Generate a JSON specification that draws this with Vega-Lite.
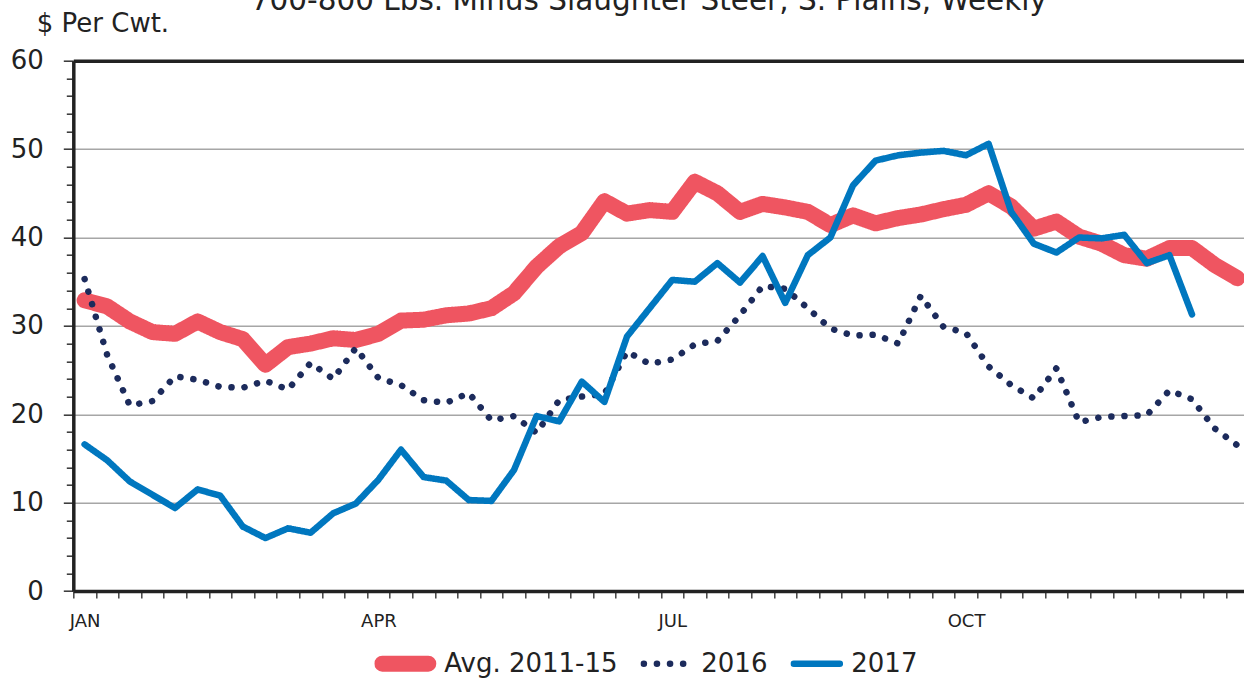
{
  "$schema": "https://vega.github.io/schema/vega-lite/v6.json",
  "width": 1170.7,
  "height": 530.4,
  "autosize": {"type": "none"},
  "padding": {"left": 73.3, "top": 60.7, "right": 0, "bottom": 89.5},
  "config": {"font": "DejaVu Sans", "view": {"stroke": null}},
  "data": {"values": [
    {"week":1,"series":"Avg. 2011-15","value":32.9},{"week":2,"series":"Avg. 2011-15","value":32.2},{"week":3,"series":"Avg. 2011-15","value":30.5},{"week":4,"series":"Avg. 2011-15","value":29.3},{"week":5,"series":"Avg. 2011-15","value":29.1},{"week":6,"series":"Avg. 2011-15","value":30.5},{"week":7,"series":"Avg. 2011-15","value":29.3},{"week":8,"series":"Avg. 2011-15","value":28.5},{"week":9,"series":"Avg. 2011-15","value":25.6},{"week":10,"series":"Avg. 2011-15","value":27.6},{"week":11,"series":"Avg. 2011-15","value":28.0},{"week":12,"series":"Avg. 2011-15","value":28.6},{"week":13,"series":"Avg. 2011-15","value":28.4},{"week":14,"series":"Avg. 2011-15","value":29.1},{"week":15,"series":"Avg. 2011-15","value":30.6},{"week":16,"series":"Avg. 2011-15","value":30.7},{"week":17,"series":"Avg. 2011-15","value":31.2},{"week":18,"series":"Avg. 2011-15","value":31.4},{"week":19,"series":"Avg. 2011-15","value":32.0},{"week":20,"series":"Avg. 2011-15","value":33.7},{"week":21,"series":"Avg. 2011-15","value":36.7},{"week":22,"series":"Avg. 2011-15","value":39.0},{"week":23,"series":"Avg. 2011-15","value":40.5},{"week":24,"series":"Avg. 2011-15","value":44.1},{"week":25,"series":"Avg. 2011-15","value":42.7},{"week":26,"series":"Avg. 2011-15","value":43.1},{"week":27,"series":"Avg. 2011-15","value":42.9},{"week":28,"series":"Avg. 2011-15","value":46.3},{"week":29,"series":"Avg. 2011-15","value":45.0},{"week":30,"series":"Avg. 2011-15","value":42.9},{"week":31,"series":"Avg. 2011-15","value":43.8},{"week":32,"series":"Avg. 2011-15","value":43.4},{"week":33,"series":"Avg. 2011-15","value":42.9},{"week":34,"series":"Avg. 2011-15","value":41.4},{"week":35,"series":"Avg. 2011-15","value":42.5},{"week":36,"series":"Avg. 2011-15","value":41.6},{"week":37,"series":"Avg. 2011-15","value":42.2},{"week":38,"series":"Avg. 2011-15","value":42.6},{"week":39,"series":"Avg. 2011-15","value":43.2},{"week":40,"series":"Avg. 2011-15","value":43.7},{"week":41,"series":"Avg. 2011-15","value":45.0},{"week":42,"series":"Avg. 2011-15","value":43.5},{"week":43,"series":"Avg. 2011-15","value":41.0},{"week":44,"series":"Avg. 2011-15","value":41.8},{"week":45,"series":"Avg. 2011-15","value":40.1},{"week":46,"series":"Avg. 2011-15","value":39.3},{"week":47,"series":"Avg. 2011-15","value":38.0},{"week":48,"series":"Avg. 2011-15","value":37.6},{"week":49,"series":"Avg. 2011-15","value":38.8},{"week":50,"series":"Avg. 2011-15","value":38.8},{"week":51,"series":"Avg. 2011-15","value":36.9},{"week":52,"series":"Avg. 2011-15","value":35.4},
    {"week":1,"series":"2016","value":35.3},{"week":2,"series":"2016","value":26.7},{"week":3,"series":"2016","value":21.0},{"week":4,"series":"2016","value":21.5},{"week":5,"series":"2016","value":24.3},{"week":6,"series":"2016","value":23.9},{"week":7,"series":"2016","value":23.1},{"week":8,"series":"2016","value":23.0},{"week":9,"series":"2016","value":23.8},{"week":10,"series":"2016","value":22.8},{"week":11,"series":"2016","value":25.8},{"week":12,"series":"2016","value":24.0},{"week":13,"series":"2016","value":27.5},{"week":14,"series":"2016","value":24.1},{"week":15,"series":"2016","value":23.3},{"week":16,"series":"2016","value":21.6},{"week":17,"series":"2016","value":21.3},{"week":18,"series":"2016","value":22.4},{"week":19,"series":"2016","value":19.3},{"week":20,"series":"2016","value":19.8},{"week":21,"series":"2016","value":17.9},{"week":22,"series":"2016","value":21.6},{"week":23,"series":"2016","value":22.0},{"week":24,"series":"2016","value":22.3},{"week":25,"series":"2016","value":27.1},{"week":26,"series":"2016","value":25.7},{"week":27,"series":"2016","value":26.2},{"week":28,"series":"2016","value":27.9},{"week":29,"series":"2016","value":28.3},{"week":30,"series":"2016","value":31.2},{"week":31,"series":"2016","value":34.5},{"week":32,"series":"2016","value":34.2},{"week":33,"series":"2016","value":32.0},{"week":34,"series":"2016","value":29.7},{"week":35,"series":"2016","value":28.9},{"week":36,"series":"2016","value":29.0},{"week":37,"series":"2016","value":28.0},{"week":38,"series":"2016","value":33.4},{"week":39,"series":"2016","value":29.9},{"week":40,"series":"2016","value":29.2},{"week":41,"series":"2016","value":25.4},{"week":42,"series":"2016","value":23.3},{"week":43,"series":"2016","value":21.8},{"week":44,"series":"2016","value":25.2},{"week":45,"series":"2016","value":19.1},{"week":46,"series":"2016","value":19.7},{"week":47,"series":"2016","value":19.8},{"week":48,"series":"2016","value":19.9},{"week":49,"series":"2016","value":22.7},{"week":50,"series":"2016","value":21.7},{"week":51,"series":"2016","value":18.4},{"week":52,"series":"2016","value":16.5},
    {"week":1,"series":"2017","value":16.6},{"week":2,"series":"2017","value":14.8},{"week":3,"series":"2017","value":12.4},{"week":4,"series":"2017","value":10.9},{"week":5,"series":"2017","value":9.4},{"week":6,"series":"2017","value":11.5},{"week":7,"series":"2017","value":10.8},{"week":8,"series":"2017","value":7.3},{"week":9,"series":"2017","value":6.0},{"week":10,"series":"2017","value":7.1},{"week":11,"series":"2017","value":6.6},{"week":12,"series":"2017","value":8.8},{"week":13,"series":"2017","value":9.9},{"week":14,"series":"2017","value":12.6},{"week":15,"series":"2017","value":16.0},{"week":16,"series":"2017","value":12.9},{"week":17,"series":"2017","value":12.5},{"week":18,"series":"2017","value":10.3},{"week":19,"series":"2017","value":10.2},{"week":20,"series":"2017","value":13.7},{"week":21,"series":"2017","value":19.8},{"week":22,"series":"2017","value":19.2},{"week":23,"series":"2017","value":23.7},{"week":24,"series":"2017","value":21.4},{"week":25,"series":"2017","value":28.8},{"week":26,"series":"2017","value":32.0},{"week":27,"series":"2017","value":35.2},{"week":28,"series":"2017","value":35.0},{"week":29,"series":"2017","value":37.1},{"week":30,"series":"2017","value":34.9},{"week":31,"series":"2017","value":37.9},{"week":32,"series":"2017","value":32.6},{"week":33,"series":"2017","value":38.0},{"week":34,"series":"2017","value":40.0},{"week":35,"series":"2017","value":45.9},{"week":36,"series":"2017","value":48.7},{"week":37,"series":"2017","value":49.3},{"week":38,"series":"2017","value":49.6},{"week":39,"series":"2017","value":49.8},{"week":40,"series":"2017","value":49.3},{"week":41,"series":"2017","value":50.6},{"week":42,"series":"2017","value":42.9},{"week":43,"series":"2017","value":39.3},{"week":44,"series":"2017","value":38.3},{"week":45,"series":"2017","value":40.0},{"week":46,"series":"2017","value":39.9},{"week":47,"series":"2017","value":40.3},{"week":48,"series":"2017","value":37.1},{"week":49,"series":"2017","value":38.0},{"week":50,"series":"2017","value":31.3}
  ]},
  "mark": {"type": "line", "strokeCap": "round", "strokeJoin": "round"},
  "encoding": {
    "x": {"field": "week", "type": "quantitative", "scale": {"domain": [0.5, 52.3], "nice": false, "zero": false},
      "axis": {"values": [0.5,1.5,2.5,3.5,4.5,5.5,6.5,7.5,8.5,9.5,10.5,11.5,12.5,13.5,14.5,15.5,16.5,17.5,18.5,19.5,20.5,21.5,22.5,23.5,24.5,25.5,26.5,27.5,28.5,29.5,30.5,31.5,32.5,33.5,34.5,35.5,36.5,37.5,38.5,39.5,40.5,41.5,42.5,43.5,44.5,45.5,46.5,47.5,48.5,49.5,50.5,51.5],
        "labelExpr": "datum.value == 0.5 ? 'JAN' : datum.value == 13.5 ? 'APR' : datum.value == 26.5 ? 'JUL' : datum.value == 39.5 ? 'OCT' : ''",
        "labelOffset": 11.3, "labelFontSize": 18, "labelColor": "#222222", "labelPadding": 14, "labelOverlap": false, "labelFlush": false, "labelBound": false,
        "tickSize": 7, "tickColor": "#444444", "tickWidth": 1.5, "grid": false, "domainColor": "#222222", "domainWidth": 3.5,
        "title": "700-800 Lbs. Minus Slaughter Steer, S. Plains, Weekly", "titleX": 575, "titleY": -582, "titleAlign": "center", "titleBaseline": "alphabetic", "titleAngle": 0, "titleFontSize": 29.5, "titleFontWeight": "normal", "titleColor": "#222222"}},
    "y": {"field": "value", "type": "quantitative", "scale": {"domain": [0, 60], "nice": false},
      "axis": {"values": [0,2,4,6,8,10,12,14,16,18,20,22,24,26,28,30,32,34,36,38,40,42,44,46,48,50,52,54,56,58,60],
        "labelExpr": "datum.value % 10 == 0 ? datum.label : ''",
        "labelFontSize": 26, "labelColor": "#222222", "labelPadding": 20, "labelOverlap": false, "labelFlush": false, "labelBound": false,
        "tickSize": {"condition": {"test": "datum.value % 10 == 0", "value": 10}, "value": 7},
        "tickColor": "#333333", "tickWidth": 1.5,
        "grid": true,
        "gridColor": {"condition": {"test": "datum.value == 60", "value": "#222222"}, "value": "#a6a6a6"},
        "gridWidth": {"condition": {"test": "datum.value == 60", "value": 3.5}, "value": 1.5},
        "gridOpacity": {"condition": {"test": "datum.value % 10 == 0 && datum.value > 0", "value": 1}, "value": 0},
        "domainColor": "#222222", "domainWidth": 3.5,
        "title": "$ Per Cwt.", "titleAngle": 0, "titleAlign": "left", "titleBaseline": "alphabetic", "titleX": -37, "titleY": -29, "titleFontSize": 26, "titleFontWeight": "normal", "titleColor": "#222222"}},
    "color": {"field": "series", "type": "nominal",
      "scale": {"domain": ["Avg. 2011-15", "2016", "2017"], "range": ["#EF5561", "#1C2B5C", "#0077BF"]},
      "legend": {"title": null, "orient": "none", "legendX": 301, "legendY": 588, "direction": "horizontal", "symbolType": "stroke", "symbolSize": 2116, "clipHeight": 30, "labelFontSize": 26, "labelColor": "#222222", "labelOffset": 8, "labelLimit": 400, "columnPadding": 22,
        "encoding": {"symbols": {"strokeCap": {"value": "round"}, "strokeWidth": {"condition": {"test": "datum.value == 'Avg. 2011-15'", "value": 16}, "value": 6}}}}},
    "strokeDash": {"field": "series", "type": "nominal",
      "scale": {"type": "ordinal", "domain": ["Avg. 2011-15", "2016", "2017"], "range": [[1, 0], [0.1, 13], [1, 0]]}},
    "strokeWidth": {"field": "series", "type": "nominal", "legend": null,
      "scale": {"type": "ordinal", "domain": ["Avg. 2011-15", "2016", "2017"], "range": [16, 6.5, 6.5]}}
  }
}
